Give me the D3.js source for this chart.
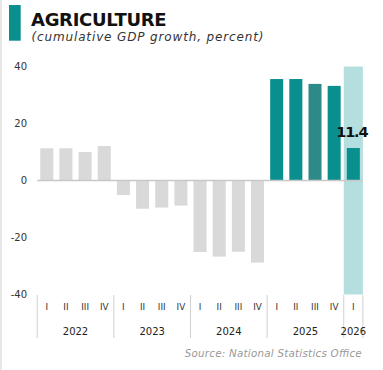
<!DOCTYPE html>
<html>
<head>
<meta charset="utf-8">
<script src="https://cdn.jsdelivr.net/npm/d3@7"></script>
<style>
  html, body { margin: 0; padding: 0; background: #fff; }
  svg { display: block; }
  text { font-family: "DejaVu Sans", sans-serif; }
</style>
</head>
<body>
<svg id="chart" width="383" height="370"></svg>
<script>
// Quarterly data: cumulative agricultural GDP growth, percent
const years = ["2022", "2023", "2024", "2025", "2026"];
const quarters = ["I", "II", "III", "IV", "I", "II", "III", "IV", "I", "II", "III", "IV", "I", "II", "III", "IV", "I"];
const quarterYears = ["2022", "2022", "2022", "2022", "2023", "2023", "2023", "2023", "2024", "2024", "2024", "2024", "2025", "2025", "2025", "2025", "2026"];
const values = [11.3, 11.3, 10.0, 12.1, -5.1, -9.9, -9.5, -8.8, -25.1, -26.7, -25.0, -28.8, 35.6, 35.6, 33.9, 33.2, 11.4];
const yTicks = [40, 20, 0, -20, -40];

const svg = d3.select("#chart");
const W = 383, H = 370;

const x = d3.scaleBand()
  .domain(d3.range(values.length))
  .range([37.2, 362.9])
  .paddingInner(0.32)
  .paddingOuter(0.16);

const y = d3.scaleLinear().domain([-40, 40]).range([294.5, 66.5]);

// Thin frame edge on the left
svg.append("rect").attr("x", 0).attr("y", 0).attr("width", 2).attr("height", H).attr("fill", "#e8e8e8");

// Header
svg.append("rect").attr("x", 9).attr("y", 5).attr("width", 11.7).attr("height", 35.7).attr("fill", "#0a8f8f");
svg.append("text").attr("x", 31).attr("y", 25.7)
  .attr("font-size", 18).attr("font-weight", 700).attr("fill", "#111")
  .attr("letter-spacing", -0.3)
  .text("AGRICULTURE");
svg.append("text").attr("x", 31.5).attr("y", 40.5)
  .attr("font-size", 12).attr("font-style", "italic").attr("fill", "#333")
  .attr("textLength", 232).attr("lengthAdjust", "spacing")
  .text("(cumulative GDP growth, percent)");

// Highlight band for the latest quarter
const last = values.length - 1;
const step = x.step();
svg.append("rect")
  .attr("x", x(last) + x.bandwidth() / 2 - step / 2)
  .attr("y", y(40))
  .attr("width", step)
  .attr("height", y(-40) - y(40))
  .attr("fill", "#b5dfdf");

// Y axis labels
svg.append("g").selectAll("text").data(yTicks).join("text")
  .attr("x", 27).attr("y", d => y(d)).attr("dy", "0.35em")
  .attr("text-anchor", "end").attr("font-size", 10).attr("fill", "#333")
  .text(d => d);

// Bars
const colorOf = (d, i) => {
  if (quarterYears[i] === "2025" && quarters[i] === "III") return "#2e8a88";
  return d >= 0 && i >= 12 ? "#0a8f8f" : "#d9d9d9";
};
svg.append("g").selectAll("rect").data(values).join("rect")
  .attr("x", (d, i) => x(i))
  .attr("width", x.bandwidth())
  .attr("y", d => y(Math.max(0, d)))
  .attr("height", d => Math.abs(y(d) - y(0)))
  .attr("fill", colorOf);

// Zero line
svg.append("line")
  .attr("x1", 37.2).attr("x2", 362.9)
  .attr("y1", y(0)).attr("y2", y(0))
  .attr("stroke", "#c8c8c8").attr("stroke-width", 1.5);

// Value label on the latest bar
svg.append("text")
  .attr("x", x(last) + x.bandwidth() / 2 - 1.5)
  .attr("y", y(values[last]) - 11.5)
  .attr("text-anchor", "middle")
  .attr("font-size", 14.5).attr("font-weight", 700).attr("fill", "#111")
  .attr("letter-spacing", -1.2)
  .text(values[last].toFixed(1));

// X axis: quarter labels, year groups and separators
const xAxis = svg.append("g");
xAxis.selectAll("text.q").data(quarters).join("text")
  .attr("class", "q")
  .attr("x", (d, i) => x(i) + x.bandwidth() / 2)
  .attr("y", 310)
  .attr("text-anchor", "middle").attr("font-size", 8.8).attr("fill", "#333")
  .text(d => d);

const groups = years.map(yr => {
  const idx = quarterYears.map((q, i) => q === yr ? i : -1).filter(i => i >= 0);
  const first = idx[0], lastI = idx[idx.length - 1];
  return {
    year: yr,
    x0: x(first) + x.bandwidth() / 2 - step / 2,
    x1: x(lastI) + x.bandwidth() / 2 + step / 2
  };
});
const seps = [groups[0].x0].concat(groups.map(g => g.x1));
xAxis.selectAll("line").data(seps).join("line")
  .attr("x1", d => d).attr("x2", d => d)
  .attr("y1", 295).attr("y2", 338)
  .attr("stroke", "#d0d0d0").attr("stroke-width", 1);

xAxis.selectAll("text.y").data(groups).join("text")
  .attr("class", "y")
  .attr("x", g => (g.x0 + g.x1) / 2)
  .attr("y", 334.5)
  .attr("text-anchor", "middle").attr("font-size", 10).attr("fill", "#222")
  .text(g => g.year);

// Source note
svg.append("text").attr("x", 361.7).attr("y", 357)
  .attr("text-anchor", "end").attr("font-size", 10.3).attr("font-style", "italic")
  .attr("fill", "#999")
  .attr("textLength", 177).attr("lengthAdjust", "spacing")
  .text("Source: National Statistics Office");
</script>
</body>
</html>
